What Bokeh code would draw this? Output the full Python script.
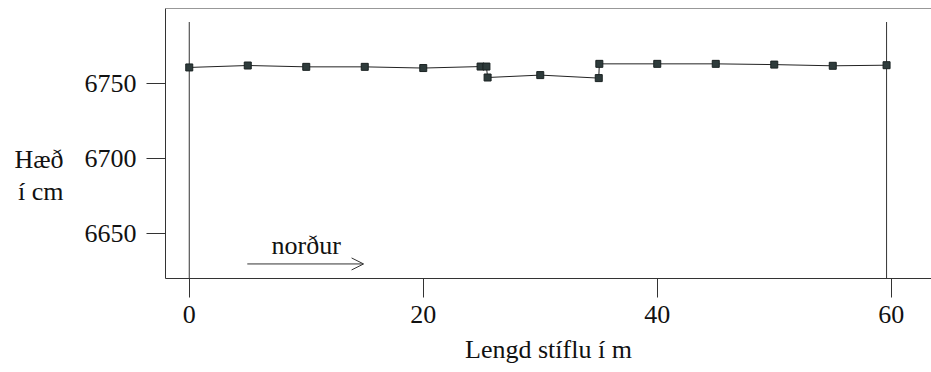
from bokeh.plotting import figure
from bokeh.models import Range1d, FixedTicker, Span, Label, Arrow, OpenHead, ColumnDataSource
from bokeh.embed import file_html
from bokeh.resources import INLINE

# ---- data ----
dist_m = [0, 5, 10, 15, 20, 24.9, 25.4, 25.5, 30, 35, 35.05, 40, 45, 50, 55, 59.6]
height_cm = [6760.7, 6762.0, 6761.1, 6761.1, 6760.3, 6761.3, 6761.3, 6754.0,
             6755.6, 6753.6, 6763.1, 6763.1, 6763.1, 6762.6, 6761.8, 6762.2]
wall_x = [0, 59.6]
wall_top = [6791, 6791]
x_ticks = [0, 20, 40, 60]
y_ticks = [6650, 6700, 6750]
x_start, x_end = -2.03, 63.44
y_start, y_end = 6620, 6800
arrow_x = [4.96, 14.9]
arrow_y = 6629.7
x_title = "Lengd stíflu í m"
y_title = "\n\nHæð\ní cm"

FONT = "Liberation Serif"
DARK = "#333333"
TXT = "#111111"

p = figure(width=931, height=372, output_backend="svg", toolbar_location=None,
           x_range=Range1d(x_start, x_end), y_range=Range1d(y_start, y_end),
           min_border_left=165, min_border_right=0, min_border_top=8, min_border_bottom=94)
p.outline_line_color = None
p.grid.visible = False
p.background_fill_color = "white"

for ax in (p.xaxis[0], p.yaxis[0]):
    ax.axis_line_color = DARK
    ax.major_tick_line_color = DARK
    ax.major_tick_out = 19
    ax.major_tick_in = 0
    ax.minor_tick_out = 0
    ax.minor_tick_in = 0
    ax.major_label_text_font = FONT
    ax.major_label_text_font_size = "26px"
    ax.major_label_text_color = TXT
    ax.axis_label_text_font = FONT
    ax.axis_label_text_font_size = "26px"
    ax.axis_label_text_font_style = "normal"
    ax.axis_label_text_color = TXT
p.xaxis[0].ticker = FixedTicker(ticks=x_ticks)
p.yaxis[0].ticker = FixedTicker(ticks=y_ticks)
p.xaxis[0].major_label_standoff = 8
p.yaxis[0].major_label_standoff = 10
p.xaxis[0].axis_label = x_title
p.xaxis[0].axis_label_standoff = 9
p.yaxis[0].axis_label = y_title
p.yaxis[0].axis_label_orientation = "horizontal"
p.yaxis[0].axis_label_standoff = 18
p.yaxis[0].axis_label_text_line_height = 1.1

# top frame line
p.add_layout(Span(location=y_end, dimension="width", line_color=DARK, line_width=1))

# dam ends
p.segment(x0=wall_x, y0=wall_top, x1=wall_x, y1=[y_start, y_start], line_color=DARK, line_width=1)

# profile
src = ColumnDataSource(dict(x=dist_m, y=height_cm))
p.line("x", "y", source=src, line_color="#222222", line_width=1)
p.scatter("x", "y", source=src, marker="square", size=7, fill_color="#2e3b3b", line_color="#1a2222")

# direction arrow
p.add_layout(Arrow(end=OpenHead(size=12, line_color=DARK, line_width=1),
                   x_start=arrow_x[0], y_start=arrow_y, x_end=arrow_x[1], y_end=arrow_y,
                   line_color=DARK, line_width=1))
p.add_layout(Label(x=10.0, y=6641.7, text="norður", text_font=FONT, text_font_size="26px",
                   text_align="center", text_baseline="alphabetic", text_color=TXT))

open("out.html", "w").write(file_html(p, INLINE))
